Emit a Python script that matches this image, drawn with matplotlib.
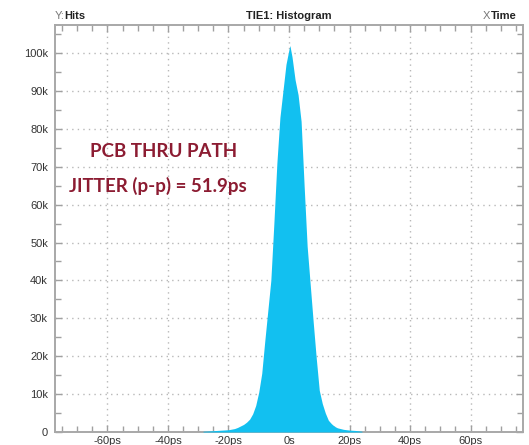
import matplotlib.pyplot as plt
from matplotlib.ticker import MultipleLocator, FuncFormatter

# histogram profile (time in ps, hits in thousands)
t_ps = [-28.4, -26, -24, -22, -20, -18, -17, -16, -15, -14, -13, -12, -11, -10,
        -9, -8, -7, -6, -5, -4, -3, -2, -1, 0, 0.3, 1, 2, 3, 4, 5, 6, 7, 8, 9,
        10, 11, 12, 13, 14, 15, 16, 18, 20, 22, 24.1]
hits_k = [0.2, 0.3, 0.4, 0.5, 0.6, 0.9, 1.2, 1.6, 2.0, 2.6, 3.4, 4.8, 7.0, 10.5,
          15.5, 24, 32, 40, 55, 71, 83, 90, 97, 101, 102, 99, 93, 89, 82, 65, 49,
          39, 29, 19.5, 11, 7.5, 5, 3.1, 2.2, 1.5, 1.1, 0.7, 0.5, 0.4, 0.2]

x_ticks = [-60, -40, -20, 0, 20, 40, 60]
y_ticks = [0, 10, 20, 30, 40, 50, 60, 70, 80, 90, 100]

fig = plt.figure(figsize=(5.29, 4.45), dpi=100)
ax = fig.add_axes([55 / 529, 1 - 432 / 445, (523 - 55) / 529, (432 - 25) / 445])

ax.fill_between(t_ps, 0, hits_k, color='#12C0F0', linewidth=0, zorder=3)

ax.set_xlim(-77.3, 77.3)
ax.set_ylim(0, 107.4)
ax.set_xticks(x_ticks)
ax.set_yticks(y_ticks)
ax.xaxis.set_minor_locator(MultipleLocator(5))
ax.yaxis.set_minor_locator(MultipleLocator(5))
ax.xaxis.set_major_formatter(FuncFormatter(lambda v, p: f'{int(v)}ps' if v != 0 else '0s'))
ax.yaxis.set_major_formatter(FuncFormatter(lambda v, p: f'{int(v)}k' if v != 0 else '0'))

ax.grid(True, which='major', color='#b8b8b8', linestyle=(0, (1, 3)), linewidth=1.0, zorder=1)
ax.tick_params(which='both', direction='in', top=True, right=True, color='#a0a0a0')
ax.tick_params(which='major', length=5, width=1)
ax.tick_params(which='minor', length=4, width=1)
ax.tick_params(axis='both', labelsize=8, labelcolor='#333333')
ax.tick_params(axis='x', pad=3)
ax.tick_params(axis='y', pad=5)
for lab in ax.get_xticklabels() + ax.get_yticklabels():
    lab.set_fontfamily('Liberation Sans')
for s in ax.spines.values():
    s.set_color('#a8a8a8')
    s.set_linewidth(1.4)

# header line of the scope screen
fig.text(55 / 529, 1 - 16 / 445, 'Y:', fontsize=8, color='#777777', family='Liberation Sans', va='center')
fig.text(64 / 529, 1 - 16 / 445, 'Hits', fontsize=8, fontweight='bold', color='#222222', family='Liberation Sans', va='center')
fig.text(289 / 529, 1 - 16 / 445, 'TIE1: Histogram', fontsize=8, fontweight='bold', color='#222222',
         family='Liberation Sans', ha='center', va='center')
fig.text(490 / 529, 1 - 16 / 445, 'X', fontsize=8, color='#777777', family='Liberation Sans', ha='right', va='center')
fig.text(517 / 529, 1 - 16 / 445, 'Time', fontsize=8, fontweight='bold', color='#222222',
         family='Liberation Sans', ha='right', va='center')

# annotation
ax.text(-41.6, 74.0, 'PCB THRU PATH', fontsize=13.5, fontweight='bold', color='#8C1C32',
        family='Lato', ha='center', va='center', zorder=5)
ax.text(-43.2, 64.8, 'JITTER (p-p) = 51.9ps', fontsize=13.5, fontweight='bold', color='#8C1C32',
        family='Lato', ha='center', va='center', zorder=5)

fig.savefig('out.png', dpi=100)
